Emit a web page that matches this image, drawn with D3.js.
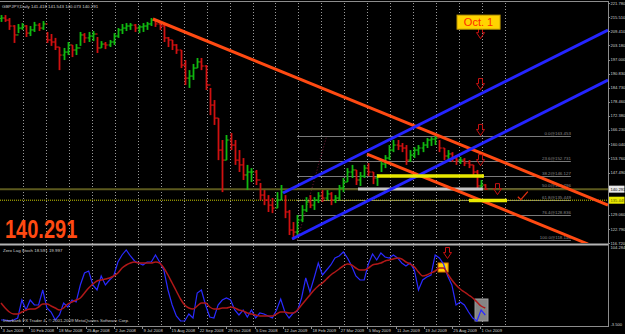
<!DOCTYPE html>
<html>
<head>
<meta charset="utf-8">
<script src="https://cdn.jsdelivr.net/npm/d3@7"></script>
<style>
  body { margin: 0; background: #000; overflow: hidden; }
  svg { display: block; font-family: "Liberation Sans", Arial, sans-serif; }
</style>
</head>
<body>
<div id="chart"></div>
<script>
// ---- Data (one sample every 4 daily bars) ----
const highs = [216.5,216.5,215.2,212.1,212.6,213.0,212.1,211.7,213.5,213.0,
  213.9,209.1,208.2,206.5,202.5,202.1,204.7,203.4,203.8,209.1,
  208.6,209.1,209.5,206.9,205.1,204.7,205.6,208.6,210.8,212.6,
  213.0,213.0,212.6,212.1,213.0,213.5,215.2,214.8,213.5,212.6,
  206.9,205.6,203.8,201.2,196.8,192.4,195.1,197.7,197.7,194.6,
  184.6,179.3,171.4,161.8,164.0,164.9,161.8,157.4,153.9,150.9,
  149.5,148.7,143.0,139.9,137.7,136.4,139.0,142.1,137.7,131.2,
  125.9,129.0,133.3,136.8,137.7,136.8,139.0,139.9,139.9,139.0,
  137.7,142.1,145.2,149.5,150.9,148.7,147.8,150.9,151.7,147.8,
  146.9,153.0,155.2,159.6,161.8,161.8,160.5,159.6,157.4,158.7,
  159.6,160.9,162.7,163.1,163.5,161.8,158.3,157.4,156.5,155.2,
  154.4,153.9,153.0,150.9,148.7,144.3,142.5];
const lows = [213.5,213.5,210.0,204.3,208.6,210.0,206.9,207.3,209.1,209.5,
  210.0,204.3,203.0,201.2,192.4,196.8,199.0,198.1,199.0,203.0,
  204.3,204.7,205.1,199.9,202.1,201.6,202.5,203.4,206.5,208.2,
  209.5,210.0,209.1,208.6,209.1,210.0,211.7,211.3,210.0,204.7,
  202.5,201.2,199.5,193.3,185.9,184.6,188.1,193.3,192.4,183.7,
  172.7,168.4,153.0,139.0,153.0,157.4,150.9,147.8,144.3,139.9,
  143.4,142.1,135.5,133.3,130.3,129.8,132.0,135.5,127.6,120.2,
  118.1,120.2,125.9,130.3,132.0,131.2,134.2,134.7,135.5,133.3,
  134.2,135.5,139.0,143.4,145.2,142.1,141.7,145.2,146.0,142.5,
  141.7,147.8,149.5,153.0,156.5,157.4,156.5,150.9,152.2,153.9,
  155.2,156.5,158.3,159.2,159.6,156.5,153.0,153.0,152.2,150.9,
  151.3,150.4,149.5,146.5,139.9,139.9,139.9];
const closes = [215.2,214.3,211.7,207.8,210.8,211.7,208.6,210.0,212.1,210.8,
  212.6,205.6,204.7,202.5,199.0,200.3,203.4,201.2,202.1,207.8,
  206.5,207.3,208.2,202.1,203.8,203.4,204.7,207.3,210.0,210.8,
  211.7,212.1,210.8,211.3,211.7,212.6,214.3,212.6,211.7,206.5,
  205.6,203.4,201.2,194.6,188.9,189.8,193.3,196.0,194.2,185.9,
  177.1,171.4,157.4,153.0,161.8,159.6,153.0,150.9,146.5,147.8,
  147.8,144.3,137.7,135.5,133.3,132.0,135.5,139.0,130.3,122.4,
  121.5,126.8,131.2,134.7,133.3,135.5,137.3,136.4,138.2,135.5,
  136.4,140.8,143.4,147.8,148.7,144.3,146.0,149.5,147.8,145.2,
  146.0,151.3,153.9,157.4,159.6,159.2,158.3,153.0,155.2,157.4,
  158.3,159.6,161.8,162.2,162.7,158.3,154.8,155.7,153.9,153.0,
  153.0,151.7,150.9,147.8,141.7,142.1,140.3];

// Zero Lag Stochastic: fast (blue) and signal (red)
const stochFast = [2.1,2.1,0.7,2.1,4.9,30.1,16.1,30.1,23.1,23.1,
  44.1,18.9,13.3,2.1,9.1,25.9,20.3,30.1,27.3,51.1,
  67.9,70.7,51.1,44.1,63.7,51.1,58.1,63.7,83.3,93.1,
  100.1,91.7,84.7,81.9,79.1,83.3,83.3,93.1,83.3,72.1,
  44.1,23.1,7.7,0.7,0.7,10.5,4.9,39.9,44.1,23.1,
  6.3,4.9,23.1,30.1,32.9,30.1,16.1,9.1,16.1,6.3,
  16.1,4.9,11.9,10.5,7.7,4.9,16.1,31.5,13.3,4.9,
  11.9,14.7,32.9,60.9,41.3,60.9,81.9,65.1,72.1,79.1,
  88.9,91.7,97.3,88.9,77.7,63.7,58.1,58.1,80.5,94.5,
  86.1,95.9,90.3,88.9,93.1,88.9,81.9,77.7,81.9,72.1,
  44.1,58.1,62.3,65.1,93.1,88.9,80.5,63.7,51.1,23.1,
  27.3,23.1,13.3,4.9,0.7,16.1,9.1];
const stochSignal = [25.9,18.9,13.3,10.5,10.5,13.3,16.1,17.5,17.5,20.3,
  24.5,24.5,21.7,18.9,16.1,18.9,24.5,27.3,30.1,32.9,
  39.9,46.9,52.5,56.7,58.1,59.5,60.9,63.7,67.9,74.9,
  79.1,81.9,83.3,81.9,81.9,81.9,81.9,83.3,81.9,74.9,
  65.1,53.9,42.7,31.5,23.1,18.9,17.5,21.7,25.9,25.9,
  20.3,17.5,17.5,18.9,18.9,20.3,18.9,16.1,14.7,11.9,
  10.5,9.1,7.7,7.7,7.7,7.7,10.5,13.3,13.3,11.9,
  11.9,16.1,23.1,30.1,37.1,44.1,49.7,53.9,59.5,65.1,
  69.3,73.5,77.7,80.5,79.1,74.9,72.1,72.1,74.9,79.1,
  80.5,81.9,84.7,86.1,87.5,88.9,87.5,83.3,80.5,76.5,
  69.3,63.7,65.1,67.9,70.7,74.9,74.9,66.5,58.1,51.1,
  45.5,41.3,37.1,32.9,27.3,21.7,18.9];

// Time axis
const dateLabels = ["3 Jan 2008","10 Feb 2008","18 Mar 2008","25 Apr 2008","2 Jun 2008",
  "9 Jul 2008","15 Aug 2008","22 Sep 2008","29 Oct 2008","5 Dec 2008","12 Jan 2009",
  "18 Feb 2009","27 Mar 2009","5 May 2009","11 Jun 2009","19 Jul 2009","25 Aug 2009","1 Oct 2009"];
const dateBars = [0,27,54,81,108,135,162,189,216,243,270,297,324,351,378,405,432,459];

// Price axis
const priceTicks = [221.780,215.510,209.410,203.180,197.000,190.830,184.730,178.460,
  172.380,166.230,160.040,153.760,147.490,129.060,122.790,116.720];
const lastPrice = 140.291;
const alertPrice = 135.449;

// Fibonacci retracement
const fibLevels = ["0.0","23.6","38.2","50.0","61.8","76.4","100.0"];
const fibPrices = [163.453,152.731,146.127,140.796,135.449,128.836,118.140];
const fibBars = [283.6, 546];
const fibAnchorBars = [284, 312];

// Trend lines: [bar1, price1, bar2, price2]
const redLines = [[145.6,214.78,581.6,133.35],[350.7,155.67,562.5,116.27]];
const blueLines = [[270.2,138.60,581.6,209.96],[278.8,118.46,581.6,188.07]];

// Highlight bars: [bar1, bar2, price]
const yellowMarks = [[360.3,462.8,146.04],[448.4,484.9,135.3]];
const grayMarks = [[342.1,461.9,140.35]];

// Down arrows: bar, price
const arrowBars = [459,459,459,459,475];
const arrowPrices = [208.6,186.3,166.2,153.0,140.3];

// ---- Layout ----
const W = 625, H = 334;
const axisX = 608;
const xScale = d3.scaleLinear().domain([0, 581.6]).range([1, axisX]);
const yPrice = d3.scaleLinear().domain([116.72, 221.78]).range([243, 3]);
const yStoch = d3.scaleLinear().domain([-3.5, 104.284]).range([324, 247]);
const sampleBar = i => i * 4;

const svg = d3.select('#chart').append('svg')
  .attr('width', W).attr('height', H);
svg.append('rect').attr('width', W).attr('height', H).attr('fill', '#000');

svg.append('clipPath').attr('id', 'mainClip')
  .append('rect').attr('x', 0).attr('y', 2).attr('width', axisX).attr('height', 241);
svg.append('clipPath').attr('id', 'subClip')
  .append('rect').attr('x', 0).attr('y', 246).attr('width', axisX).attr('height', 80);

// vertical dotted grid
const gridBars = d3.range(21, 490, 22);
svg.append('g').selectAll('line').data(gridBars).join('line')
  .attr('x1', d => Math.round(xScale(d)) + 0.5).attr('x2', d => Math.round(xScale(d)) + 0.5)
  .attr('y1', 3).attr('y2', 326)
  .attr('stroke', '#9a9a9a').attr('stroke-width', 1).attr('stroke-dasharray', '1,2');

// frame
const frame = svg.append('g').attr('stroke', '#8c8c8c').attr('fill', 'none');
frame.append('line').attr('x1', 0).attr('x2', axisX).attr('y1', 1.5).attr('y2', 1.5);
frame.append('line').attr('x1', 0).attr('x2', axisX).attr('y1', 244.5).attr('y2', 244.5).attr('stroke', '#b4b4b4').attr('stroke-width', 2);
frame.append('line').attr('x1', 0).attr('x2', axisX).attr('y1', 326.5).attr('y2', 326.5);
frame.append('line').attr('x1', axisX + 0.5).attr('x2', axisX + 0.5).attr('y1', 1).attr('y2', 327);

const main = svg.append('g').attr('clip-path', 'url(#mainClip)');

// fibonacci levels
const fib = main.append('g');
fib.selectAll('line').data(fibPrices).join('line')
  .attr('x1', xScale(fibBars[0])).attr('x2', xScale(fibBars[1]))
  .attr('y1', d => Math.round(yPrice(d)) + 0.5).attr('y2', d => Math.round(yPrice(d)) + 0.5)
  .attr('stroke', '#7a7a7a').attr('stroke-width', 1);
fib.append('line')
  .attr('x1', xScale(fibAnchorBars[0])).attr('y1', yPrice(fibPrices[6]))
  .attr('x2', xScale(fibAnchorBars[1])).attr('y2', yPrice(fibPrices[0]))
  .attr('stroke', '#7a1a3a').attr('stroke-dasharray', '1,2');
fib.selectAll('text').data(fibPrices).join('text')
  .attr('x', xScale(fibBars[1])).attr('y', d => Math.round(yPrice(d)) - 1)
  .attr('text-anchor', 'end').attr('font-size', 4.4).attr('fill', '#8a8a8a')
  .text((d, i) => `${fibLevels[i]}@${d.toFixed(3)}`);

// bid line and alert line
main.append('line').attr('x1', 0).attr('x2', axisX)
  .attr('y1', yPrice(lastPrice)).attr('y2', yPrice(lastPrice))
  .attr('stroke', '#5c5a1e').attr('stroke-width', 2);
main.append('line').attr('x1', 0).attr('x2', axisX)
  .attr('y1', yPrice(alertPrice)).attr('y2', yPrice(alertPrice))
  .attr('stroke', '#c8c800').attr('stroke-dasharray', '1,1');

// price bars
const bars = main.append('g');
closes.forEach((c, i) => {
  const open = i === 0 ? (highs[0] + lows[0]) / 2 : closes[i - 1];
  const color = c >= open ? '#10b810' : '#d01010';
  const x = Math.round(xScale(sampleBar(i))) + 0.5;
  bars.append('line').attr('x1', x).attr('x2', x)
    .attr('y1', yPrice(highs[i])).attr('y2', yPrice(lows[i]))
    .attr('stroke', color).attr('stroke-width', 1.8);
  bars.append('line').attr('x1', x - 2).attr('x2', x)
    .attr('y1', yPrice(open)).attr('y2', yPrice(open))
    .attr('stroke', color).attr('stroke-width', 1.2);
  bars.append('line').attr('x1', x).attr('x2', x + 2.2)
    .attr('y1', yPrice(c)).attr('y2', yPrice(c))
    .attr('stroke', color).attr('stroke-width', 1.2);
});

// highlight marks
main.selectAll('.gray').data(grayMarks).join('line')
  .attr('x1', d => xScale(d[0])).attr('x2', d => xScale(d[1]))
  .attr('y1', d => yPrice(d[2])).attr('y2', d => yPrice(d[2]))
  .attr('stroke', '#c4c4c4').attr('stroke-width', 3);

// trend channels
main.selectAll('.red').data(redLines).join('line')
  .attr('x1', d => xScale(d[0])).attr('y1', d => yPrice(d[1]))
  .attr('x2', d => xScale(d[2])).attr('y2', d => yPrice(d[3]))
  .attr('stroke', '#ff4a12').attr('stroke-width', 3);
main.selectAll('.blue').data(blueLines).join('line')
  .attr('x1', d => xScale(d[0])).attr('y1', d => yPrice(d[1]))
  .attr('x2', d => xScale(d[2])).attr('y2', d => yPrice(d[3]))
  .attr('stroke', '#2424ff').attr('stroke-width', 3);

main.selectAll('.yellow').data(yellowMarks).join('line')
  .attr('x1', d => xScale(d[0])).attr('x2', d => xScale(d[1]))
  .attr('y1', d => yPrice(d[2])).attr('y2', d => yPrice(d[2]))
  .attr('stroke', '#e8e800').attr('stroke-width', 3.5);

// arrows
function arrowPath(cx, cy) {
  const t = cy - 5.5;
  return `M${cx - 2},${t}L${cx + 2},${t}L${cx + 2},${t + 5}L${cx + 4},${t + 5}L${cx},${t + 11}L${cx - 4},${t + 5}L${cx - 2},${t + 5}Z`;
}
main.selectAll('.arrow').data(arrowBars).join('path')
  .attr('d', (d, i) => arrowPath(Math.round(xScale(d)) + 0.5, yPrice(arrowPrices[i])))
  .attr('fill', 'none').attr('stroke', '#c81010').attr('stroke-width', 1);

// check mark
const ck = [xScale(500), yPrice(137.0)];
main.append('path')
  .attr('d', `M${ck[0] - 5},${ck[1]}L${ck[0] - 2},${ck[1] + 3}L${ck[0] + 5},${ck[1] - 5}`)
  .attr('fill', 'none').attr('stroke', '#e03010').attr('stroke-width', 1.3);

// Oct. 1 label
const octX = xScale(459), octY = yPrice(213.4);
svg.append('rect').attr('x', octX - 23).attr('y', octY - 7).attr('width', 43).attr('height', 14)
  .attr('fill', '#ffd400').attr('stroke', '#c8a000');
svg.append('text').attr('x', octX - 1.5).attr('y', octY + 4).attr('text-anchor', 'middle')
  .attr('font-size', 11).attr('fill', '#ff2a00').text('Oct. 1');

// big price
svg.append('text').attr('transform', 'translate(5,238) scale(1,1.3)')
  .attr('font-size', 20).attr('font-weight', 'bold')
  .attr('fill', '#ff4a12').text(lastPrice.toFixed(3));

// title
svg.append('text').attr('x', 2).attr('y', 7.5).attr('font-size', 4.4).attr('fill', '#d0d0d0')
  .text('GBPJPY,Daily  141.418 141.543 140.073 140.291');

// ---- Indicator pane ----
const sub = svg.append('g').attr('clip-path', 'url(#subClip)');
sub.append('rect')
  .attr('x', xScale(418.8)).attr('y', yStoch(81.9))
  .attr('width', xScale(428.4) - xScale(418.8)).attr('height', yStoch(69.3) - yStoch(81.9))
  .attr('fill', '#ffd400').attr('stroke', '#e07000');
sub.append('rect')
  .attr('x', xScale(454.2)).attr('y', yStoch(31.5))
  .attr('width', xScale(466.6) - xScale(454.2)).attr('height', yStoch(0.7) - yStoch(31.5))
  .attr('fill', '#858585').attr('stroke', '#a0a0a0');

const stochLine = d3.line().x((d, i) => xScale(sampleBar(i))).y(d => yStoch(d));
sub.append('path').datum(stochFast).attr('d', stochLine)
  .attr('fill', 'none').attr('stroke', '#2a2aff').attr('stroke-width', 1.2);
sub.append('path').datum(stochSignal).attr('d', d3.line().curve(d3.curveMonotoneX)
    .x((d, i) => xScale(sampleBar(i))).y(d => yStoch(d)))
  .attr('fill', 'none').attr('stroke', '#b01818').attr('stroke-width', 1.5);

sub.append('path').attr('d', arrowPath(Math.round(xScale(427.4)) + 0.5, yStoch(95.9)))
  .attr('fill', 'none').attr('stroke', '#c81010').attr('stroke-width', 1);

svg.append('text').attr('x', 3).attr('y', 252).attr('font-size', 4.4).attr('fill', '#d0d0d0')
  .text('Zero Lag Stoch 18.591 19.997');
svg.append('text').attr('x', 3).attr('y', 322).attr('font-size', 4.4).attr('fill', '#d0d0d0')
  .text('Interbank FX Trader 4, \u00a9 2001-2009 MetaQuotes Software Corp.');

// ---- Axes ----
const axisFont = 4.1;
const ax = svg.append('g').attr('font-size', axisFont).attr('fill', '#d0d0d0');
ax.selectAll('line').data(priceTicks).join('line')
  .attr('x1', axisX).attr('x2', axisX + 2)
  .attr('y1', d => Math.round(yPrice(d)) + 0.5).attr('y2', d => Math.round(yPrice(d)) + 0.5)
  .attr('stroke', '#8c8c8c');
ax.selectAll('text').data(priceTicks).join('text')
  .attr('x', axisX + 2.5).attr('y', d => yPrice(d) + 1.5)
  .text(d => d.toFixed(3));

// price tags
svg.append('rect').attr('x', axisX + 1).attr('y', yPrice(lastPrice) - 3.5).attr('width', 15.5).attr('height', 7)
  .attr('fill', '#e8e8e8');
svg.append('text').attr('x', axisX + 2.5).attr('y', yPrice(lastPrice) + 1.5).attr('font-size', axisFont)
  .attr('fill', '#000').text(lastPrice.toFixed(3));
svg.append('rect').attr('x', axisX + 1).attr('y', yPrice(alertPrice) - 3.5).attr('width', 15.5).attr('height', 7)
  .attr('fill', '#e8e800');
svg.append('text').attr('x', axisX + 2.5).attr('y', yPrice(alertPrice) + 1.5).attr('font-size', axisFont)
  .attr('fill', '#606000').text(alertPrice.toFixed(3));

const stochTicks = [104.284, -3.5];
svg.append('g').selectAll('text').data(stochTicks).join('text')
  .attr('x', axisX + 2.5).attr('y', d => yStoch(d) + 1.5).attr('font-size', axisFont).attr('fill', '#d0d0d0')
  .text(d => d.toFixed(3));

// time axis
const tx = svg.append('g');
tx.selectAll('line').data(dateBars).join('line')
  .attr('x1', d => Math.round(xScale(d)) + 0.5).attr('x2', d => Math.round(xScale(d)) + 0.5)
  .attr('y1', 326).attr('y2', 329).attr('stroke', '#8c8c8c');
tx.selectAll('text').data(dateBars).join('text')
  .attr('x', d => xScale(d) + 1.5).attr('y', 332).attr('font-size', 4.2).attr('fill', '#d0d0d0')
  .text((d, i) => dateLabels[i]);
</script>
</body>
</html>
